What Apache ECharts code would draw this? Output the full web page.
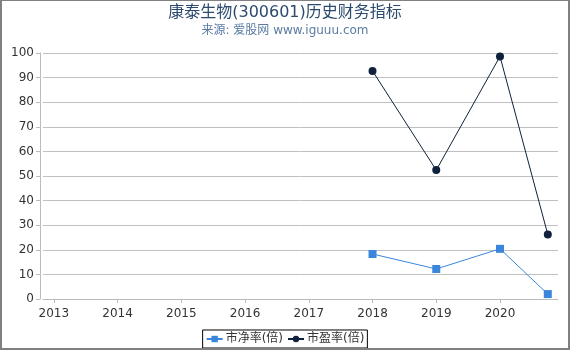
<!DOCTYPE html>
<html>
<head>
<meta charset="utf-8">
<script src="https://cdn.jsdelivr.net/npm/echarts@6/dist/echarts.min.js"></script>
<style>
  html, body { margin: 0; padding: 0; background: #fff; }
  #chart {
    width: 570px; height: 350px; box-sizing: border-box;
    border-style: solid; border-color: #808080;
    border-width: 1px 2px 2px 2px;
  }
</style>
</head>
<body>
<div id="chart"></div>
<script>
// 年份（小数部分表示季度）
var years = [2018, 2019, 2020, 2020.75];
var pbValues = [18.3, 12.2, 20.4, 2.0];   // 市净率(倍)
var peValues = [92.7, 52.4, 98.6, 26.2];  // 市盈率(倍)
var yearTicks = [2013, 2014, 2015, 2016, 2017, 2018, 2019, 2020];

function pairs(xs, ys) {
  return xs.map(function (x, i) { return [x, ys[i]]; });
}

var font = "'DejaVu Sans', 'Noto Sans CJK SC', sans-serif";

var chart = echarts.init(document.getElementById("chart"));
chart.setOption({
  animation: false,
  textStyle: { fontFamily: font },
  title: {
    text: "康泰生物(300601)历史财务指标",
    subtext: "来源: 爱股网 www.iguuu.com",
    left: "center",
    top: -1,
    itemGap: 4,
    textStyle: { fontSize: 16, fontWeight: "normal", color: "#2b4a6e", fontFamily: font },
    subtextStyle: { fontSize: 12, color: "#5b7ba3", fontFamily: font }
  },
  grid: { left: 41, right: 10, top: 52, bottom: 49 },
  legend: {
    bottom: 0,
    left: "center",
    borderColor: "#000",
    borderWidth: 1,
    borderRadius: 0,
    padding: [3, 3, 3, 3],
    itemGap: 4,
    itemWidth: 16,
    itemHeight: 8,
    textStyle: { fontSize: 12, color: "#333", fontFamily: font, padding: [0, 0, 0, -2] },
    data: ["市净率(倍)", "市盈率(倍)"]
  },
  xAxis: {
    type: "value",
    min: 2012.83,
    max: 2020.91,
    offset: 5,
    axisLine: { lineStyle: { color: "#bbb" } },
    axisTick: { show: true, length: 4, customValues: yearTicks, lineStyle: { color: "#bbb" } },
    axisLabel: {
      customValues: yearTicks, color: "#333", fontSize: 12, margin: 4, fontFamily: font,
      formatter: function (v) { return String(Math.round(v)); }
    },
    splitLine: { show: false }
  },
  yAxis: {
    type: "value",
    min: 0,
    max: 100,
    interval: 10,
    offset: 3,
    axisLine: { show: true, lineStyle: { color: "#bbb" } },
    axisTick: { show: true, length: 4, lineStyle: { color: "#bbb" } },
    axisLabel: { color: "#333", fontSize: 12, margin: 6, fontFamily: font },
    splitLine: { lineStyle: { color: "#c0c0c0" } }
  },
  series: [
    {
      name: "市净率(倍)",
      type: "line",
      data: pairs(years, pbValues),
      symbol: "rect",
      symbolSize: 8,
      color: "#3a86dc",
      lineStyle: { width: 1 }
    },
    {
      name: "市盈率(倍)",
      type: "line",
      data: pairs(years, peValues),
      symbol: "circle",
      symbolSize: 8,
      color: "#0f213b",
      lineStyle: { width: 1 }
    }
  ]
});
</script>
</body>
</html>
